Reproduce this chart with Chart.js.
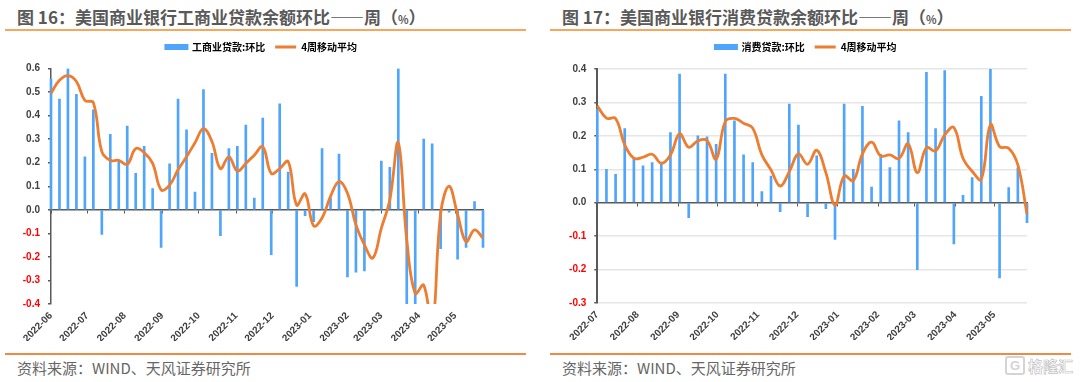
<!DOCTYPE html>
<html lang="zh-CN">
<head>
    <meta charset="UTF-8">
    <title>美国商业银行贷款余额环比</title>
    <script src="https://cdn.jsdelivr.net/npm/chart.js"></script>
    <style>
        html, body { margin: 0; padding: 0; background: #fff; }
        body { position: relative; width: 1080px; height: 382px; overflow: hidden; font-family: "Noto Sans CJK SC", sans-serif; }
        .title { position: absolute; top: 5px; font-size: 17px; line-height: 24px; font-weight: 700; color: #595959; white-space: nowrap; }
        .title small { font-size: 11px; font-weight: 700; }
        .rule { position: absolute; height: 2px; background: #f7a65c; }
        .rule.bottom { height: 1.5px; background: #ee8a45; }
        .source { position: absolute; top: 357px; font-size: 15px; line-height: 22px; color: #666; white-space: nowrap; }
        canvas { position: absolute; top: 32px; }
        .mark { position: absolute; left: 1028px; top: 355px; font-size: 15px; line-height: 22px; font-weight: 700; color: #fff; -webkit-text-stroke: 0.7px #c4c4c4; white-space: nowrap; }
        .mark-logo { position: absolute; left: 1005px; top: 356px; width: 16px; height: 15px; border: 2px solid #d4d4d4; border-radius: 3px; font: bold 13px/15px "Liberation Sans", sans-serif; color: #d4d4d4; text-align: center; }
    </style>
</head>
<body>
    <div class="title" style="left:17px">图 16：美国商业银行工商业贷款余额环比——周（<small>%</small>）</div>
    <div class="rule" style="left:5px;top:29px;width:521px"></div>
    <div class="title" style="left:562px">图 17：美国商业银行消费贷款余额环比——周（<small>%</small>）</div>
    <div class="rule" style="left:550px;top:29px;width:521px"></div>

    <canvas id="commercialChart" width="523" height="314" style="left:0"></canvas>
    <canvas id="consumerChart" width="522" height="314" style="left:545px"></canvas>

    <div class="rule bottom" style="left:5px;top:353px;width:521px"></div>
    <div class="source" style="left:17px">资料来源：WIND、天风证券研究所</div>
    <div class="rule bottom" style="left:550px;top:353px;width:521px"></div>
    <div class="source" style="left:562px">资料来源：WIND、天风证券研究所</div>
    <div class="mark-logo">G</div>
    <div class="mark">格隆汇</div>

    <script>
        // Figure 16: commercial & industrial loans
        const commercialWeeks = [
            '2022-06-01', '2022-06-08', '2022-06-15', '2022-06-22', '2022-06-29', '2022-07-06', '2022-07-13', '2022-07-20', '2022-07-27',
            '2022-08-03', '2022-08-10', '2022-08-17', '2022-08-24', '2022-08-31', '2022-09-07', '2022-09-14', '2022-09-21', '2022-09-28',
            '2022-10-05', '2022-10-12', '2022-10-19', '2022-10-26', '2022-11-02', '2022-11-09', '2022-11-16', '2022-11-23', '2022-11-30',
            '2022-12-07', '2022-12-14', '2022-12-21', '2022-12-28', '2023-01-04', '2023-01-11', '2023-01-18', '2023-01-25', '2023-02-01',
            '2023-02-08', '2023-02-15', '2023-02-22', '2023-03-01', '2023-03-08', '2023-03-15', '2023-03-22', '2023-03-29', '2023-04-05',
            '2023-04-12', '2023-04-19', '2023-04-26', '2023-05-03', '2023-05-10', '2023-05-17', '2023-05-24'
        ];
        const commercialBars = [
            0.555, 0.47, 0.6, 0.49, 0.225, 0.425, -0.105, 0.32, 0.21, 0.355, 0.155, 0.27, 0.09,
            -0.16, 0.195, 0.47, 0.34, 0.075, 0.51, 0.24, -0.11, 0.26, 0.27, 0.36, 0.05, 0.39,
            -0.19, 0.45, 0.16, -0.325, -0.025, -0.05, 0.26, 0.05, 0.237, -0.285, -0.265, -0.26, -0.005,
            0.207, 0.18, 0.6, -0.4, -0.4, 0.3, 0.28, -0.165, -0.01, -0.21, -0.16, 0.035, -0.16
        ];
        const commercialAverage = [
            0.495, 0.55, 0.57, 0.545, 0.465, 0.455, 0.247, 0.21, 0.21, 0.193, 0.26, 0.243, 0.197,
            0.085, 0.105, 0.17, 0.225, 0.285, 0.345, 0.29, 0.175, 0.225, 0.165, 0.197, 0.232, 0.268,
            0.155, 0.175, 0.205, 0.02, 0.068, -0.068, -0.035, 0.057, 0.12, 0.07, -0.064, -0.149, -0.205,
            -0.078, 0.043, 0.285, -0.128, -0.355, -0.32, -0.5, -0.015, 0.1, -0.02, -0.135, -0.085, -0.12
        ];
        const commercialMonths = [
            '2022-06', '2022-07', '2022-08', '2022-09', '2022-10', '2022-11', '2022-12',
            '2023-01', '2023-02', '2023-03', '2023-04', '2023-05'
        ];

        // Figure 17: consumer loans
        const consumerWeeks = [
            '2022-07-01', '2022-07-08', '2022-07-15', '2022-07-22', '2022-07-29', '2022-08-05', '2022-08-12', '2022-08-19',
            '2022-08-26', '2022-09-02', '2022-09-09', '2022-09-16', '2022-09-23', '2022-09-30', '2022-10-07', '2022-10-14',
            '2022-10-21', '2022-10-28', '2022-11-04', '2022-11-11', '2022-11-18', '2022-11-25', '2022-12-02', '2022-12-09',
            '2022-12-16', '2022-12-23', '2022-12-30', '2023-01-06', '2023-01-13', '2023-01-20', '2023-01-27', '2023-02-03',
            '2023-02-10', '2023-02-17', '2023-02-24', '2023-03-03', '2023-03-10', '2023-03-17', '2023-03-24', '2023-03-31',
            '2023-04-07', '2023-04-14', '2023-04-21', '2023-04-28', '2023-05-05', '2023-05-12', '2023-05-19', '2023-05-26'
        ];
        const consumerBars = [
            0.28, 0.1, 0.085, 0.222, 0.13, 0.11, 0.12, 0.115, 0.21, 0.385, -0.045, 0.2,
            0.197, 0.175, 0.385, 0.245, 0.143, 0.12, 0.033, 0.08, -0.027, 0.295, 0.232, -0.042,
            0.14, -0.018, -0.11, 0.295, 0.1, 0.288, 0.047, 0.145, 0.105, 0.245, 0.21, -0.2,
            0.39, 0.222, 0.395, -0.123, 0.022, 0.075, 0.318, 0.4, -0.225, 0.045, 0.104, -0.06
        ];
        const consumerAverage = [
            0.29, 0.253, 0.252, 0.173, 0.133, 0.136, 0.145, 0.118, 0.143, 0.206, 0.166, 0.185,
            0.186, 0.13, 0.243, 0.252, 0.238, 0.223, 0.143, 0.098, 0.05, 0.093, 0.146, 0.115,
            0.157, 0.09, -0.007, 0.08, 0.066, 0.146, 0.181, 0.14, 0.143, 0.132, 0.176, 0.09,
            0.165, 0.155, 0.203, 0.225, 0.133, 0.094, 0.07, 0.233, 0.168, 0.163, 0.113, -0.034
        ];
        const consumerMonths = [
            '2022-07', '2022-08', '2022-09', '2022-10', '2022-11', '2022-12',
            '2023-01', '2023-02', '2023-03', '2023-04', '2023-05'
        ];

        const BAR_COLOR = '#4ea5fb';
        const LINE_COLOR = '#ed7d31';
        const AXIS_COLOR = '#595959';
        const TICK_FONT = { family: '"Liberation Sans", Arial, sans-serif', size: 10, weight: 'bold' };

        // legend height is fixed so the plot top lands where it should
        const legendHeightPlugin = {
            id: 'legendHeight',
            beforeInit(chart) {
                const fit = chart.legend.fit;
                chart.legend.fit = function () {
                    fit.call(this);
                    this.height = chart.options.plugins.legendHeight.height;
                };
            }
        };

        function monthTicks(months) {
            return months.map(m => ({ value: Date.parse(m + '-01') }));
        }

        function makeChart(id, cfg) {
            const toPoints = values => values.map((v, i) => ({ x: Date.parse(cfg.weeks[i]), y: v }));
            const xMin = Date.parse(cfg.weeks[0]);
            const xMax = Date.parse(cfg.weeks[cfg.weeks.length - 1]);

            new Chart(document.getElementById(id), {
                data: {
                    datasets: [
                        {
                            type: 'bar',
                            label: cfg.barLabel,
                            data: toPoints(cfg.bars),
                            backgroundColor: BAR_COLOR,
                            barThickness: 2,
                            order: 2,
                            clip: { left: 2, right: 2, top: 0, bottom: 0 }
                        },
                        {
                            type: 'line',
                            label: '4周移动平均',
                            data: toPoints(cfg.average),
                            borderColor: LINE_COLOR,
                            backgroundColor: LINE_COLOR,
                            borderWidth: 2.8,
                            pointRadius: 0,
                            tension: 0.4,
                            order: 1,
                            clip: { left: 3, right: 3, top: 3, bottom: 0 }
                        }
                    ]
                },
                options: {
                    responsive: false,
                    animation: false,
                    layout: { padding: { left: 0, right: 0, top: 0, bottom: cfg.bottomPad } },
                    plugins: {
                        legendHeight: { height: cfg.legendHeight },
                        tooltip: { enabled: false },
                        legend: {
                            labels: {
                                boxWidth: 21,
                                boxHeight: 3,
                                padding: 10,
                                color: '#404040',
                                font: { family: '"Noto Sans CJK SC", sans-serif', size: 10, weight: 'bold' },
                                // bar swatch is thicker than the line swatch
                                generateLabels: chart => chart.data.datasets.map((ds, i) => ({
                                    text: ds.label,
                                    fillStyle: ds.backgroundColor,
                                    strokeStyle: ds.backgroundColor,
                                    lineWidth: ds.type === 'bar' ? 3 : 0,
                                    datasetIndex: i
                                }))
                            }
                        }
                    },
                    scales: {
                        x: {
                            type: 'linear',
                            offset: false,
                            min: xMin,
                            max: xMax,
                            border: { display: false },
                            grid: { display: false, offset: false },
                            afterBuildTicks: axis => { axis.ticks = monthTicks(cfg.months); },
                            afterFit: axis => { axis.height = 37; },
                            ticks: {
                                autoSkip: false,
                                minRotation: 45,
                                maxRotation: 45,
                                padding: -2,
                                color: '#404040',
                                font: TICK_FONT,
                                callback: value => new Date(value).toISOString().slice(0, 7)
                            }
                        },
                        // zero line with the month tick marks, labels stay at the bottom
                        zero: {
                            type: 'linear',
                            axis: 'x',
                            position: { y: 0 },
                            offset: false,
                            min: xMin,
                            max: xMax,
                            border: { color: AXIS_COLOR, width: 1.5 },
                            grid: { drawOnChartArea: false, offset: false, color: AXIS_COLOR, tickLength: 3, tickWidth: 1 },
                            afterBuildTicks: axis => { axis.ticks = monthTicks(cfg.months); },
                            ticks: { display: false }
                        },
                        y: {
                            min: cfg.yMin,
                            max: cfg.yMax,
                            border: { color: AXIS_COLOR, width: cfg.axisWidth },
                            grid: {
                                drawOnChartArea: cfg.showGrid,
                                color: ctx => ctx.tick && ctx.tick.value === 0 ? 'rgba(0,0,0,0)' : '#e6e6e6',
                                lineWidth: 1.5,
                                tickColor: AXIS_COLOR,
                                tickLength: 3
                            },
                            afterFit: axis => { axis.width = cfg.yWidth; },
                            ticks: {
                                stepSize: 0.1,
                                padding: 8,
                                font: TICK_FONT,
                                color: ctx => ctx.tick.value < -0.001 ? '#ff0000' : '#404040',
                                callback: value => value.toFixed(1)
                            }
                        },
                        // empty axis keeps the plot short of the canvas edge, legend stays centred on the canvas
                        rightGap: {
                            type: 'linear',
                            axis: 'y',
                            position: 'right',
                            min: 0,
                            max: 1,
                            border: { display: false },
                            grid: { display: false },
                            ticks: { display: false },
                            afterFit: axis => { axis.width = 40; }
                        }
                    }
                },
                plugins: [legendHeightPlugin]
            });
        }

        makeChart('commercialChart', {
            weeks: commercialWeeks, bars: commercialBars, average: commercialAverage, months: commercialMonths,
            barLabel: '工商业贷款:环比',
            yMin: -0.4, yMax: 0.6, yWidth: 51, axisWidth: 1.5, showGrid: false, legendHeight: 36.5, bottomPad: 5
        });
        makeChart('consumerChart', {
            weeks: consumerWeeks, bars: consumerBars, average: consumerAverage, months: consumerMonths,
            barLabel: '消费贷款:环比',
            yMin: -0.3, yMax: 0.4, yWidth: 52.3, axisWidth: 2, showGrid: true, legendHeight: 37, bottomPad: 6
        });
    </script>
</body>
</html>
